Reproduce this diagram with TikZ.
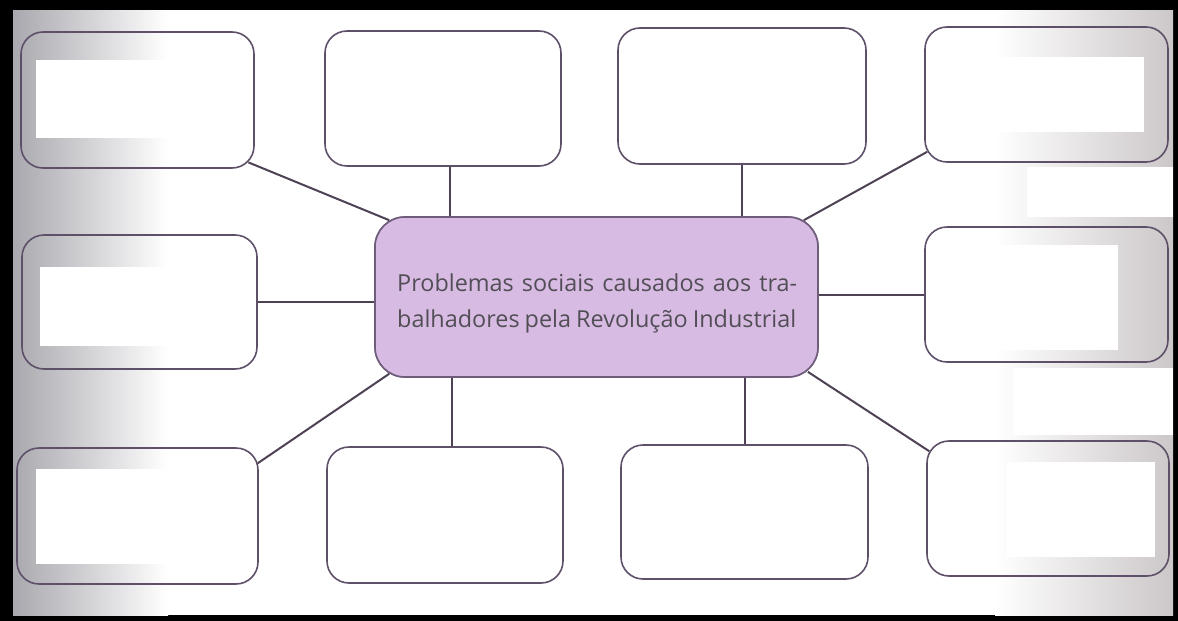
\documentclass[tikz,border=0pt]{standalone}
\usepackage{fontspec}
\newfontfamily\tfont{Open Sans}
\usetikzlibrary{calc}
\definecolor{boxline}{RGB}{95,80,105}
\definecolor{conline}{RGB}{78,66,84}
\definecolor{cfill}{RGB}{215,187,227}
\definecolor{cline}{RGB}{110,92,122}
\definecolor{txtgray}{RGB}{82,78,86}
\definecolor{lgray}{RGB}{168,168,174}
\definecolor{rgray}{RGB}{204,199,200}
\tikzset{
  leaf/.style={draw=boxline, line width=1.6pt, rounded corners=22pt, inner sep=0pt},
  hub/.style={draw=cline, line width=1.6pt, rounded corners=30pt, fill=cfill, inner sep=0pt},
  con/.style={draw=conline, line width=2pt},
  mask/.style={fill=white, draw=none},
  txt/.style={font=\tfont\fontsize{23.4}{36}\selectfont, text=txtgray, inner sep=0pt}
}
\newcommand{\boxat}[5]{%
  \node[leaf, minimum width={(#4-#2)*1pt}, minimum height={(#5-#3)*1pt}]
    (#1) at ({(#2+#4)/2},{(#3+#5)/2}) {};}
\begin{document}
\begin{tikzpicture}[x=1pt,y=-1pt]
\useasboundingbox (0,0) rectangle (1178,621);
% frame and background
\fill[black] (0,0) rectangle (1178,621);
\fill[white] (13,10) rectangle (1173,615);
\begin{scope}
\clip (13,10) rectangle (1173,615);
\shade[left color=lgray, right color=white] (13,10) rectangle (168,615);
\shade[left color=white, right color=rgray] (995,10) rectangle (1173,615);
\end{scope}
% white masks
\fill[mask] (36,60) rectangle (170,138);
\fill[mask] (40,267) rectangle (170,346);
\fill[mask] (36,469) rectangle (170,564);
\fill[mask] (993,57) rectangle (1144,132);
\fill[mask] (1027,167) rectangle (1173,217);
\fill[mask] (926,245) rectangle (1118,350);
\fill[mask] (1013,368) rectangle (1173,435);
\fill[mask] (1007,462) rectangle (1155,557);
% outer boxes
\boxat{b1}{21}{32}{254}{168}
\boxat{b2}{325}{31}{561}{166}
\boxat{b3}{618}{28}{866}{164}
\boxat{b4}{925}{27}{1168}{162}
\boxat{b5}{22}{235}{257}{369}
\boxat{b6}{925}{227}{1168}{362}
\boxat{b7}{17}{448}{258}{584}
\boxat{b8}{327}{447}{563}{583}
\boxat{b9}{621}{445}{868}{579}
\boxat{b10}{927}{441}{1169}{576}
% central node
\node[hub, minimum width=443pt, minimum height=160pt] (c) at (596.5,297) {};
% connector end points
\coordinate (p2) at ($(b2.south)+(7,0)$);
\coordinate (p8) at ($(b8.north)+(7,0)$);
% connectors
\draw[con] ($(b1.south east)+(-6.4,-6.4)$) -- ($(c.north west)+(15,4)$);
\draw[con] (p2) -- (p2 |- c.north);
\draw[con] (b3.south) -- (b3.south |- c.north);
\draw[con] ($(b4.south west)+(3,-11)$) -- ($(c.north east)+(-15,4)$);
\draw[con] (b5.east) -- (b5.east -| c.west);
\draw[con] (b6.west) -- (b6.west -| c.east);
\draw[con] ($(b7.north east)+(-1,16)$) -- ($(c.south west)+(15,-4)$);
\draw[con] (p8) -- (p8 |- c.south);
\draw[con] (b9.north) -- (b9.north |- c.south);
\draw[con] ($(b10.north west)+(3,11)$) -- ($(c.south east)+(-11,-6)$);
% redraw hub on top of connector ends
\node[hub, minimum width=443pt, minimum height=160pt] at (c) {};
% text
\node[txt, anchor=base west] (t1) at (397,291) {\makebox[400pt][s]{Problemas sociais causados aos tra-}};
\node[txt, anchor=base west] (t2) at (397,327) {\makebox[399pt][s]{balhadores pela Revolução Industrial}};
\end{tikzpicture}
\end{document}
